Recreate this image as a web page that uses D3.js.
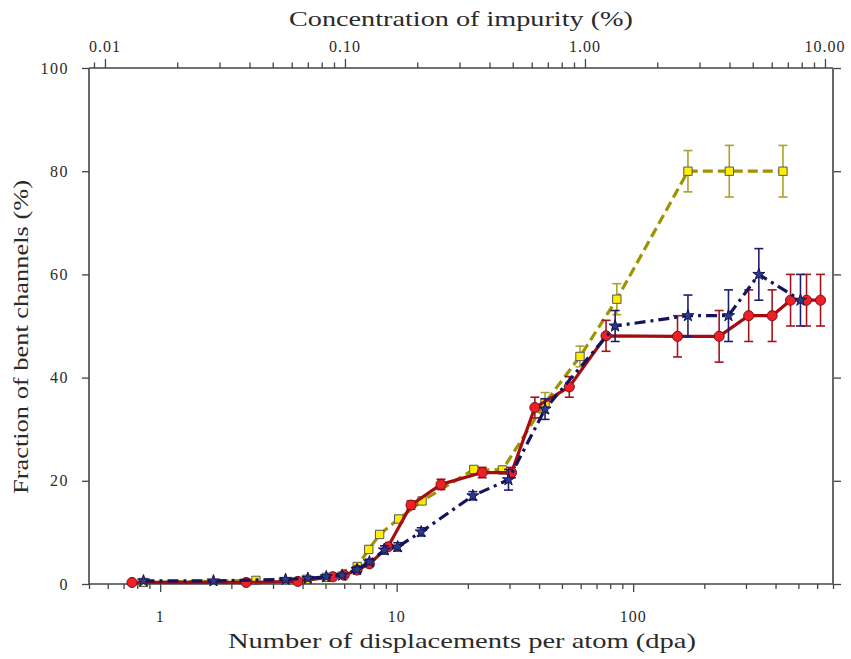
<!DOCTYPE html>
<html>
<head>
<meta charset="utf-8">
<script src="https://cdn.jsdelivr.net/npm/d3@7"></script>
<style>
  html, body { margin: 0; padding: 0; background: #fff; }
  svg { display: block; }
  text { font-family: "Liberation Serif", "DejaVu Serif", serif; fill: #2a2a2a; }
</style>
</head>
<body>
<svg id="chart" width="851" height="659"></svg>
<script>
// ---------------- data ----------------
const redX = [0.76, 2.31, 3.82, 5.37, 6.0, 6.8, 7.67, 9.19, 11.5, 15.4, 23.0, 30.6, 38.4, 53.7, 76.8, 154, 231, 308, 387, 463, 541, 620];
const redY = [0.3, 0.3, 0.5, 1.4, 1.7, 2.7, 3.9, 7.2, 15.3, 19.3, 21.6, 21.6, 34.2, 38.2, 48.1, 48, 48, 52, 52, 55, 55, 55];
const redErr = [0, 0, 0, 0.3, 0.3, 0.5, 0.5, 0.5, 0.8, 1, 1, 1, 2, 2, 3, 4, 5, 5, 5, 5, 5, 5];

const blueX = [0.85, 1.68, 3.39, 4.21, 5.04, 5.88, 6.8, 7.67, 8.88, 10.1, 12.7, 21.0, 29.7, 42.4, 83.9, 170.5, 253, 340, 510];
const blueY = [0.6, 0.6, 0.9, 1.1, 1.4, 1.7, 2.8, 4.3, 6.6, 7.2, 10.1, 17.1, 20.2, 33.9, 50.0, 52, 52, 60, 55];
const blueErr = [0, 0, 0, 0, 0.3, 0.3, 0.5, 0.5, 0.8, 0.8, 0.8, 0.8, 2, 2, 3, 4, 5, 5, 5];

const yellowX = [0.85, 2.54, 4.17, 5.04, 6.81, 7.62, 8.47, 10.2, 12.8, 21.2, 28.0, 42.4, 59.6, 85.3, 170.5, 255, 430];
const yellowY = [0.3, 0.7, 0.9, 1.3, 3.4, 6.7, 9.6, 12.6, 16.1, 22.2, 22.1, 35.1, 44.1, 55.2, 80, 80, 80];
const yellowErr = [0, 0, 0, 0, 0, 0, 0, 0, 0, 0.5, 0.5, 2, 2, 3, 4, 5, 5];

const yTicks = [0, 20, 40, 60, 80, 100];
const bottomTicks = [1, 10, 100];
const bottomTickLabels = ["1", "10", "100"];
const topTicks = [0.01, 0.1, 1, 10];
const topTickLabels = ["0.01", "0.10", "1.00", "10.00"];

const xTitle = "Number of displacements per atom (dpa)";
const topTitle = "Concentration of impurity (%)";
const yTitle = "Fraction of bent channels (%)";

// ---------------- layout ----------------
const L = 89, R = 833, T = 68, B = 584;
const svg = d3.select("#chart");

const x = d3.scaleLog().domain([0.5, 700]).range([L, R]);
const xTop = d3.scaleLog().domain([0.00858, 10.8]).range([L, R]);
const y = d3.scaleLinear().domain([0, 100]).range([B, T]);

const axisColor = "#444";

function minorTicks(lo, hi) {
  const out = [];
  for (let e = Math.floor(Math.log10(lo)) - 1; e <= Math.ceil(Math.log10(hi)); e++) {
    for (let m = 2; m <= 9; m++) {
      const v = m * Math.pow(10, e);
      if (v >= lo * 0.999 && v <= hi * 1.001) out.push(v);
    }
  }
  return out;
}

// bottom axis
const gB = svg.append("g").attr("transform", `translate(0,${B})`);
gB.call(d3.axisBottom(x).tickValues(bottomTicks).tickSize(8).tickFormat(""));
gB.append("g").call(d3.axisBottom(x).tickValues(minorTicks(0.5, 700)).tickSize(5).tickFormat(""));
gB.selectAll("path").remove();
gB.selectAll("line").attr("stroke", axisColor).attr("stroke-width", 1.3);
svg.append("g").selectAll("text").data(bottomTicks).join("text")
  .attr("x", (d) => x(d)).attr("y", 622)
  .attr("text-anchor", "middle").attr("font-size", 16).attr("letter-spacing", 1)
  .text((d, i) => bottomTickLabels[i]);

// top axis
const gT = svg.append("g").attr("transform", `translate(0,${T})`);
gT.call(d3.axisTop(xTop).tickValues(topTicks).tickSize(9).tickFormat(""));
gT.append("g").call(d3.axisTop(xTop).tickValues(minorTicks(0.00858, 10.8)).tickSize(5.5).tickFormat(""));
gT.selectAll("path").remove();
gT.selectAll("line").attr("stroke", axisColor).attr("stroke-width", 1.3);
svg.append("g").selectAll("text").data(topTicks).join("text")
  .attr("x", (d) => xTop(d)).attr("y", 52)
  .attr("text-anchor", "middle").attr("font-size", 16).attr("letter-spacing", 1)
  .text((d, i) => topTickLabels[i]);

// left axis
const gL = svg.append("g").attr("transform", `translate(${L},0)`);
gL.call(d3.axisLeft(y).tickValues(yTicks).tickSize(7).tickFormat(""));
gL.selectAll("path").remove();
gL.selectAll("line").attr("stroke", axisColor).attr("stroke-width", 1.3);
svg.append("g").selectAll("text").data(yTicks).join("text")
  .attr("x", 69).attr("y", (d) => y(d) + 5.5)
  .attr("text-anchor", "end").attr("font-size", 16).attr("letter-spacing", 1.5)
  .text((d) => d);

// right axis
const gR = svg.append("g").attr("transform", `translate(${R},0)`);
gR.call(d3.axisRight(y).tickValues(yTicks).tickSize(8).tickFormat(""));
gR.selectAll("path").remove();
gR.selectAll("line").attr("stroke", axisColor).attr("stroke-width", 1.3);

// frame lines
svg.append("line").attr("x1", L).attr("x2", R).attr("y1", B).attr("y2", B).attr("stroke", axisColor).attr("stroke-width", 1.6);
svg.append("line").attr("x1", L).attr("x2", R).attr("y1", T).attr("y2", T).attr("stroke", axisColor).attr("stroke-width", 1.6);
svg.append("line").attr("x1", L).attr("x2", L).attr("y1", T).attr("y2", B).attr("stroke", axisColor).attr("stroke-width", 1.6);
svg.append("line").attr("x1", R).attr("x2", R).attr("y1", T).attr("y2", B).attr("stroke", "#666").attr("stroke-width", 2);

// titles
svg.append("text").attr("x", 461).attr("y", 26).attr("text-anchor", "middle")
  .attr("font-size", 21).attr("textLength", 344).attr("lengthAdjust", "spacingAndGlyphs").text(topTitle);
svg.append("text").attr("x", 462).attr("y", 648).attr("text-anchor", "middle")
  .attr("font-size", 21).attr("textLength", 468).attr("lengthAdjust", "spacingAndGlyphs").text(xTitle);
svg.append("text").attr("transform", "translate(28,337) rotate(-90)").attr("text-anchor", "middle")
  .attr("font-size", 21).attr("textLength", 314).attr("lengthAdjust", "spacingAndGlyphs").text(yTitle);

// ---------------- series ----------------
function drawSeries(xs, ys, errs, opt) {
  const data = xs.map((v, i) => ({ x: v, y: ys[i], e: errs[i] }));
  const g = svg.append("g");
  const eb = g.append("g").attr("stroke", opt.errColor).attr("stroke-width", 1.6).attr("fill", "none");
  data.filter((d) => d.e > 0).forEach((d) => {
    const cx = x(d.x), y1 = y(d.y + d.e), y2 = y(d.y - d.e);
    eb.append("line").attr("x1", cx).attr("x2", cx).attr("y1", y1).attr("y2", y2);
    eb.append("line").attr("x1", cx - 4.5).attr("x2", cx + 4.5).attr("y1", y1).attr("y2", y1);
    eb.append("line").attr("x1", cx - 4.5).attr("x2", cx + 4.5).attr("y1", y2).attr("y2", y2);
  });
  const line = d3.line().x((d) => x(d.x)).y((d) => y(d.y));
  g.append("path").datum(data).attr("d", line)
    .attr("fill", "none").attr("stroke", opt.lineColor).attr("stroke-width", opt.lineWidth)
    .attr("stroke-dasharray", opt.dash).attr("stroke-linejoin", "round");
  g.append("g").selectAll("path").data(data).join("path")
    .attr("transform", (d) => `translate(${x(d.x)},${y(d.y)})`)
    .attr("d", d3.symbol().type(opt.symbol).size(opt.size)())
    .attr("fill", opt.fill).attr("stroke", opt.stroke).attr("stroke-width", 1);
}

drawSeries(yellowX, yellowY, yellowErr, {
  lineColor: "#9e9400", lineWidth: 3.2, dash: "10,5", errColor: "#aaa22a",
  symbol: d3.symbolSquare, size: 70, fill: "#ffee00", stroke: "#555"
});
drawSeries(redX, redY, redErr, {
  lineColor: "#a30d12", lineWidth: 3.2, dash: null, errColor: "#a3141c",
  symbol: d3.symbolCircle, size: 80, fill: "#ee2027", stroke: "#7a1010"
});
drawSeries(blueX, blueY, blueErr, {
  lineColor: "#14145c", lineWidth: 3.2, dash: "11,5,3,5", errColor: "#1e1e6e",
  symbol: d3.symbolStar, size: 45, fill: "#2c3a8c", stroke: "#141450"
});
</script>
</body>
</html>
